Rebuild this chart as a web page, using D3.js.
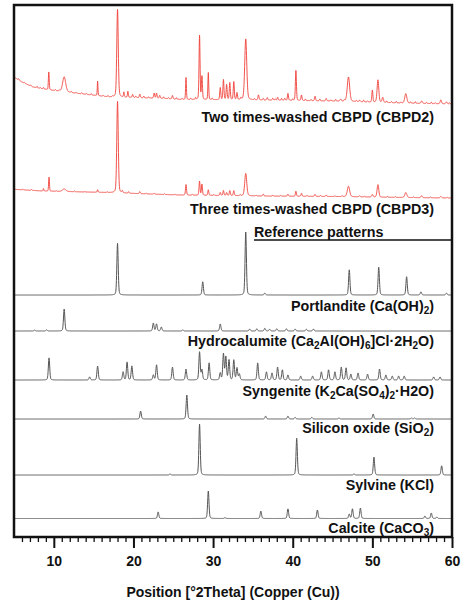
<!DOCTYPE html>
<html>
<head>
<meta charset="utf-8">
<script src="https://cdn.jsdelivr.net/npm/d3@7"></script>
<style>
	body { margin: 0; background: #fff; }
	text { font-family: "Liberation Sans", Arial, sans-serif; font-weight: bold; fill: #111; }
</style>
</head>
<body>
<div id="xrd"></div>
<script>
// x axis (°2Theta)
const thetaDomain = [5, 60];
const majorTicks = [10, 20, 30, 40, 50, 60];

// sample traces: background [2theta, counts] and peaks [2theta, height, fwhm]
const cbpd2Background = [[5, 28], [6, 23], [7.4, 18], [8.7, 16], [10, 14.5], [12, 12.5], [13.7, 11], [17, 8], [20, 7.5], [24, 6.5], [26, 5.5], [36, 5], [45, 4], [53.5, 2], [60, 1]];
const cbpd2Peaks = [
	[8.7, 1.5, 0.12], [9.37, 18, 0.12], [11.3, 15, 0.45], [15.5, 14.5, 0.1], [18.0, 87.7, 0.22],
	[18.8, 5, 0.12], [19.3, 6, 0.12], [19.9, 3, 0.15], [20.8, 3.5, 0.15], [22.6, 5, 0.15],
	[22.9, 5, 0.15], [23.3, 3, 0.15], [24.9, 3.5, 0.15], [26.6, 22, 0.12], [28.3, 64, 0.15],
	[28.6, 23, 0.15], [29.4, 27, 0.12], [30.9, 12, 0.15], [31.3, 20, 0.15], [31.7, 15, 0.15],
	[32.1, 17, 0.15], [32.6, 18, 0.15], [33.0, 7, 0.15], [34.1, 61, 0.3], [35.7, 5, 0.15],
	[36.8, 2.5, 0.15], [37.5, 2, 0.15], [38.1, 3, 0.15], [39.0, 2, 0.15], [39.4, 7, 0.15],
	[40.4, 30, 0.15], [41.1, 5.5, 0.15], [42.8, 4.5, 0.15], [44.2, 2.5, 0.15], [46.0, 2, 0.2],
	[47.0, 24.5, 0.35], [48.4, 1.5, 0.2], [50.0, 12, 0.15], [50.7, 22.5, 0.25], [51.3, 5, 0.2],
	[54.2, 9.5, 0.3], [56.2, 2.5, 0.2], [58.6, 4, 0.2], [59.3, 2, 0.2]
];
// small wiggles along the measured baseline
const cbpd2Ripple = [
	[5.6, 1.2], [6.3, 0.8], [7.1, 1], [7.9, 1.4], [8.3, 0.8], [10.2, 1], [10.7, 0.8], [12.2, 1.2],
	[12.8, 0.7], [13.5, 1.1], [14.1, 0.9], [14.7, 1.3], [16.2, 0.8], [16.8, 1.1], [17.4, 0.9], [20.3, 1.4],
	[21.3, 1.8], [21.9, 1.2], [23.8, 1.6], [24.4, 1.1], [25.4, 1.5], [26.1, 1], [27.2, 1.3], [27.8, 1.8],
	[29.9, 1.5], [33.5, 1.8], [35.2, 1.2], [36.3, 1.6], [37.8, 1.3], [38.6, 1.9], [40.0, 1.4], [41.6, 1.6],
	[42.3, 1.2], [43.4, 1.8], [44.8, 1.1], [45.4, 1.7], [46.5, 1.3], [48.0, 1.2], [48.9, 1.8], [49.4, 1.1],
	[51.8, 1.6], [52.4, 1.2], [53.0, 1.5], [53.6, 1], [54.8, 1.3], [55.4, 1.6], [56.8, 1.2], [57.4, 1.5],
	[57.9, 1], [59.7, 1.2]
];
const cbpd3Background = [[5, 10.7], [8.6, 9], [15.7, 7.7], [25.8, 5], [36, 4], [45, 3.5], [54, 2.5], [60, 2]];
const cbpd3Peaks = [
	[8.7, 2.5, 0.12], [9.4, 14, 0.12], [11.3, 2.5, 0.5], [15.5, 2.5, 0.12], [18.0, 91.5, 0.22],
	[18.6, 2, 0.15], [19.4, 1.5, 0.15], [20.8, 2, 0.15], [22.6, 1, 0.15], [26.6, 10.5, 0.15],
	[28.3, 14, 0.15], [28.6, 11, 0.15], [29.4, 5.5, 0.15], [30.9, 3, 0.15], [31.3, 5, 0.15],
	[31.7, 3, 0.15], [32.1, 5, 0.15], [32.6, 5, 0.15], [34.1, 22.5, 0.3], [36.3, 2, 0.15],
	[39.4, 2, 0.15], [40.4, 5, 0.15], [41.1, 3, 0.15], [42.8, 2, 0.15], [44.2, 1.5, 0.15],
	[47.0, 10.5, 0.35], [48.4, 1, 0.2], [50.0, 2.5, 0.2], [50.7, 12.5, 0.25], [54.2, 5, 0.3],
	[56.2, 2, 0.2], [58.6, 1.5, 0.2]
];
const cbpd3Ripple = [
	[6.1, 0.6], [7.2, 0.8], [10.3, 0.6], [12.6, 0.7], [13.9, 0.5], [16.7, 0.7], [21.6, 0.9], [23.9, 0.8],
	[25.2, 0.7], [27.4, 0.9], [30.1, 0.8], [33.4, 1], [35.4, 0.8], [37.5, 1], [38.5, 0.8], [41.8, 0.9],
	[43.5, 1], [45.3, 0.8], [46.2, 0.9], [49.0, 0.8], [51.9, 0.9], [52.9, 0.7], [55.2, 0.8], [57.3, 1],
	[59.4, 0.7]
];

// reference patterns: [2theta, relative intensity]
const portlanditePeaks = [[18.0, 82], [28.7, 21], [34.1, 100], [36.5, 3], [47.1, 40], [50.8, 44], [54.3, 29], [56.1, 5], [59.3, 3]];
const hydrocalumitePeaks = [
	[7.6, 4], [9.1, 5], [11.3, 100], [22.5, 36], [22.9, 32], [23.5, 18], [26.2, 5], [30.9, 32],
	[34.6, 9], [35.5, 10], [36.5, 12], [37.1, 8], [38.0, 10], [39.2, 10], [40.3, 9], [41.7, 8], [42.6, 9]
];
const syngenitePeaks = [
	[9.4, 79], [14.5, 11], [15.5, 50], [18.7, 29], [19.2, 64], [19.8, 50], [22.5, 18], [22.9, 54],
	[24.9, 46], [26.6, 39], [28.3, 100], [28.6, 36], [29.5, 61], [30.9, 25], [31.3, 93], [31.6, 82],
	[32.0, 71], [32.6, 71], [33.0, 43], [33.3, 21], [35.6, 61], [36.7, 29], [37.4, 25], [38.1, 46],
	[38.7, 36], [39.4, 18], [41.0, 14], [42.5, 14], [43.6, 29], [44.5, 36], [45.3, 29], [46.1, 46],
	[46.7, 43], [47.3, 21], [48.2, 25], [49.4, 21], [50.9, 39], [51.7, 18], [52.5, 14], [53.3, 14],
	[54.0, 14], [57.7, 11], [58.5, 11]
];
const quartzPeaks = [[20.9, 33], [26.7, 100], [36.6, 12], [39.4, 12], [40.3, 7], [42.4, 7], [45.8, 4], [50.1, 21], [54.9, 4], [55.3, 4]];
const sylvinePeaks = [[24.6, 2], [28.3, 100], [40.5, 72], [47.7, 2], [50.2, 35], [58.7, 18]];
const calcitePeaks = [[23.1, 24], [29.4, 100], [31.5, 3], [36.0, 27], [39.4, 35], [43.1, 31], [47.1, 16], [47.5, 35], [48.5, 38], [56.6, 9], [57.4, 20], [58.1, 5]];

// labels: [text, subscript?]
const labelParts = {
	cbpd2: [["Two times-washed CBPD (CBPD2)", 0]],
	cbpd3: [["Three times-washed CBPD (CBPD3)", 0]],
	portlandite: [["Portlandite (Ca(OH)", 0], ["2", 1], [")", 0]],
	hydrocalumite: [["Hydrocalumite (Ca", 0], ["2", 1], ["Al(OH)", 0], ["6", 1], ["]Cl·2H", 0], ["2", 1], ["O)", 0]],
	syngenite: [["Syngenite (K", 0], ["2", 1], ["Ca(SO", 0], ["4", 1], [")", 0], ["2", 1], ["·H2O)", 0]],
	quartz: [["Silicon oxide (SiO", 0], ["2", 1], [")", 0]],
	sylvine: [["Sylvine (KCl)", 0]],
	calcite: [["Calcite (CaCO", 0], ["3", 1], [")", 0]]
};

const width = 461;
const height = 606;
const plot = { left: 14, right: 452, top: 5, bottom: 537 };
const labelX = 434;

// layout of the stack: baseline y, pixel height of 100 units, label baseline
const patterns = [
	{ key: "cbpd2", peaks: cbpd2Peaks, ripple: cbpd2Ripple, bg: cbpd2Background, base: 105, span: 100, labelY: 122, color: "#ef3f38" },
	{ key: "cbpd3", peaks: cbpd3Peaks, ripple: cbpd3Ripple, bg: cbpd3Background, base: 200, span: 100, labelY: 214, color: "#ef3f38" },
	{ key: "portlandite", peaks: portlanditePeaks, base: 295, span: 63, labelY: 310.5 },
	{ key: "hydrocalumite", peaks: hydrocalumitePeaks, base: 331, span: 22, labelY: 345.5 },
	{ key: "syngenite", peaks: syngenitePeaks, base: 380, span: 28, labelY: 396 },
	{ key: "quartz", peaks: quartzPeaks, base: 419, span: 24, labelY: 433 },
	{ key: "sylvine", peaks: sylvinePeaks, base: 475, span: 51, labelY: 490 },
	{ key: "calcite", peaks: calcitePeaks, base: 518.5, span: 27.5, labelY: 533 }
];

const svg = d3
	.select("#xrd")
	.append("svg")
	.attr("width", width)
	.attr("height", height);

const x = d3.scaleLinear().domain(thetaDomain).range([plot.left, plot.right]);

// pseudo-Voigt peak shape
function profile(t, pos, h, w) {
	const z = (t - pos) / w;
	const g = Math.exp(-4 * Math.LN2 * z * z);
	const l = 1 / (1 + 4 * z * z);
	return h * (0.75 * g + 0.25 * l);
}

const grid = d3.range(thetaDomain[0], thetaDomain[1] + 0.0001, 0.02);

patterns.forEach((p) => {
	const y = d3.scaleLinear().domain([0, 100]).range([p.base, p.base - p.span]);
	const bgScale = p.bg
		? d3.scaleLinear().domain(p.bg.map((d) => d[0])).range(p.bg.map((d) => d[1]))
		: () => 0;
	const values = grid.map((t) => {
		let v = bgScale(t);
		p.peaks.forEach((pk) => {
			if (Math.abs(t - pk[0]) < 3) v += profile(t, pk[0], pk[1], pk[2] || 0.2);
		});
		(p.ripple || []).forEach((r) => {
			if (Math.abs(t - r[0]) < 0.5) v += profile(t, r[0], r[1], 0.12);
		});
		return [t, v];
	});

	const line = d3
		.line()
		.x((d) => x(d[0]))
		.y((d) => y(d[1]));

	svg.append("path")
		.datum(values)
		.attr("d", line)
		.attr("fill", "none")
		.attr("stroke", p.color || "#555")
		.attr("stroke-width", p.color ? 0.9 : 1)
		.attr("stroke-linejoin", "round");

	const label = svg
		.append("text")
		.attr("x", labelX)
		.attr("y", p.labelY)
		.attr("text-anchor", "end")
		.style("font-size", "14.3px");
	let shifted = false;
	labelParts[p.key].forEach((part) => {
		const ts = label.append("tspan").text(part[0]);
		if (part[1]) {
			ts.attr("dy", shifted ? 0 : 3).style("font-size", "10px");
			shifted = true;
		} else if (shifted) {
			ts.attr("dy", -3);
			shifted = false;
		}
	});
});

// reference patterns heading
svg.append("text")
	.attr("x", 254)
	.attr("y", 236.5)
	.style("font-size", "14.3px")
	.text("Reference patterns");

svg.append("line")
	.attr("x1", 254)
	.attr("x2", plot.right)
	.attr("y1", 240)
	.attr("y2", 240)
	.attr("stroke", "#111")
	.attr("stroke-width", 1.5);

// frame
svg.append("rect")
	.attr("x", plot.left)
	.attr("y", plot.top)
	.attr("width", plot.right - plot.left)
	.attr("height", plot.bottom - plot.top)
	.attr("fill", "none")
	.attr("stroke", "#111")
	.attr("stroke-width", 2.5);

// minor ticks every degree
const minorAxis = d3
	.axisBottom(x)
	.tickValues(d3.range(6, 60, 1).filter((d) => d % 10 !== 0))
	.tickSize(5)
	.tickFormat("");

svg.append("g")
	.attr("transform", `translate(0, ${plot.bottom})`)
	.call(minorAxis)
	.call((g) => g.select(".domain").remove())
	.call((g) => g.selectAll("line").attr("stroke", "#111").attr("stroke-width", 1.3));

const xAxis = d3
	.axisBottom(x)
	.tickValues(majorTicks)
	.tickSize(11)
	.tickPadding(8);

svg.append("g")
	.attr("transform", `translate(0, ${plot.bottom})`)
	.call(xAxis)
	.call((g) => g.select(".domain").remove())
	.call((g) => g.selectAll("line").attr("stroke", "#111").attr("stroke-width", 2))
	.call((g) =>
		g.selectAll("text")
			.attr("fill", "#111")
			.style("font-size", "14px")
			.style("font-family", "'Liberation Sans', Arial, sans-serif")
			.style("font-weight", "bold")
	);

svg.append("text")
	.attr("x", (plot.left + plot.right) / 2)
	.attr("y", 597)
	.attr("text-anchor", "middle")
	.style("font-size", "14px")
	.text("Position [°2Theta] (Copper (Cu))");
</script>
</body>
</html>
